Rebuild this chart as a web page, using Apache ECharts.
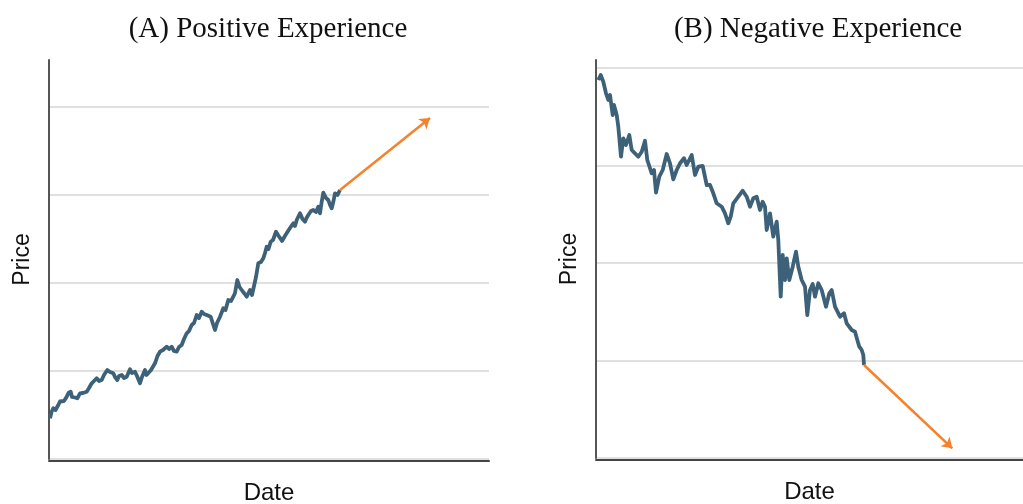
<!DOCTYPE html>
<html>
<head>
<meta charset="utf-8">
<script src="https://cdn.jsdelivr.net/npm/echarts@6/dist/echarts.min.js"></script>
<style>
html,body{margin:0;padding:0;background:#fff;}
#chart{width:1023px;height:504px;}
</style>
</head>
<body>
<div id="chart"></div>
<script>
// Panel titles and axis names
const titles = ['(A) Positive Experience', '(B) Negative Experience'];
const yName = 'Price';
const xName = 'Date';

// (A) price path: [day, price]
const posDays = [1,2.5,4.3,6.5,9.3,11,12.7,15,17.7,19.5,21.7,23,24.3,26,28.3,31,34,37.7,40,42.7,45,47.7,50,52.7,55,58.3,61,64.3,66,68.3,70,72.7,75,77.7,81,83,86,88,91,93,96,97.5,99.3,102,106,108.5,111,114,117.7,120,122.7,125,127.7,130,132.7,135,137.7,140,142.7,145,147.7,150,152.7,155,157.7,161.7,164,166,168,171,174.3,176.5,179.3,182,184.3,186,188.3,190.5,192.7,195,197.7,201,203,205,207,209.3,212,214.3,216,217.7,219.5,221.7,224,227,229,231,233,235,236.5,238.3,241,244.3,246,247.7,249.5,251,253.5,256,257.5,259.3,262,264.3,267,269.3,271,272.5,274.3,277,279.3,281,282.7,284.5,286,288.5,291];
const posPrice = [40.7,47,50.7,49,54,57.5,59,58,62.3,66,67.3,62,64,61.5,60.7,65.7,66,67.3,71,75.7,78,80.7,78,79,84,89,87,85.7,82,79,83,84,81,82.3,89.7,86,87.3,83,75.7,82,89,84,82.3,89,95.7,103,107.3,109,112.3,110,112.3,108,107.3,112,114,120,125.7,128,134,136,144,141,147.3,145,144,142.3,135,129,136,142.3,150.7,149,159,158,162.3,166,179,172,169,166,162.3,169,164,165.7,182,195.7,197,200.7,206,212.3,210,217.3,219,227.3,224,222.3,218,217.3,224,222.3,231,235.7,233,239,241,245.7,240,237.3,241,244,248,249,247,252.3,245.7,256,266.3,261,259,254,250.7,258,265.7,264,269];
// (A) expected trend arrow: [start, end]
const posArrowDays = [291, 381];
const posArrowPrice = [269, 341];

// (B) price path: [day, price]
const negDays = [2.3,4.7,7.3,10,12.3,14,16.7,18,20.7,22.3,25,27.3,30,33.3,35.7,39,42.3,45.7,49,51.3,55.7,58,60,63.3,66.7,70.7,74,77.3,80.7,84,88,90.7,95.7,99,102.3,106.7,110.7,114,117.3,120.7,125.7,129,132.3,134.7,137.3,142.3,146.7,150.7,154,157.3,160.7,164,166.7,169,170.7,174,177.3,180.7,182.3,184.7,186.7,189,190.7,193.3,196.7,200,202.3,205.7,209,211.3,214,216.7,219,222.3,225.7,230,233.3,235.7,239,244,248,250.7,255.7,259,261.3,263.3,265.7,267.3,268];
const negPrice = [378,383,376.3,364.7,358,363,343,353,343,331.3,301.3,319.7,313,323,308,304.7,301.3,306.3,317.3,298,284.7,288,265.3,281.3,288,304,294.7,278.7,288,294.7,299.7,293,303,283,291.3,292,273,273,264.7,254.7,251.3,244.7,234.7,241.3,254.7,261.3,267.3,261.3,251.3,259.7,261.3,248,256.3,251.3,228,244.7,221.3,236.3,218,161.3,203,178,199.7,178,191.3,206.3,191.3,178,171.3,143,168,174,161.3,174.7,168,151.3,164.7,168,151.3,141.3,144.7,134.7,128,126.3,118,111.3,108,103,93];
// (B) expected trend arrow
const negArrowDays = [268, 356.3];
const negArrowPrice = [93, 9.7];

const lineColor = '#3d6179';
const arrowColor = '#f5822a';

function zip(a, b) { return a.map((v, i) => [v, b[i]]); }

function yAxisCfg(idx, interval, max) {
  return {
    type: 'value', gridIndex: idx, min: 0, max: max, interval: interval,
    name: yName, nameLocation: 'middle', nameRotate: 90, nameGap: 15,
    nameTextStyle: { fontFamily: 'Liberation Sans', fontSize: 23, color: '#111' },
    axisLine: { show: true, lineStyle: { color: '#555', width: 2 } },
    axisTick: { show: false }, axisLabel: { show: false },
    splitLine: { show: true, showMinLine: true, showMaxLine: false, lineStyle: { color: '#d6d6d6', width: 1.5 } }
  };
}
function xAxisCfg(idx, max) {
  return {
    type: 'value', gridIndex: idx, min: 0, max: max,
    name: xName, nameLocation: 'middle', nameGap: 20, offset: 2,
    nameTextStyle: { fontFamily: 'Liberation Sans', fontSize: 24, color: '#111', verticalAlign: 'top' },
    axisLine: { show: true, onZero: false, lineStyle: { color: '#444', width: 2 } },
    axisTick: { show: false }, axisLabel: { show: false }, splitLine: { show: false }
  };
}
function arrowSeries(idx, days, price) {
  return {
    type: 'line', xAxisIndex: idx, yAxisIndex: idx, data: [], silent: true,
    markLine: {
      silent: true, symbol: ['none', 'arrow'], symbolSize: 10,
      label: { show: false },
      itemStyle: { color: arrowColor },
      lineStyle: { color: arrowColor, width: 2.5, type: 'solid' },
      data: [[{ coord: [days[0], price[0]] }, { coord: [days[1], price[1]] }]]
    }
  };
}

const chart = echarts.init(document.getElementById('chart'), null, { renderer: 'canvas' });
chart.setOption({
  animation: false,
  backgroundColor: '#fff',
  title: [
    { text: titles[0], left: 263, top: 10, textAlign: 'center',
      textStyle: { fontFamily: 'Liberation Serif', fontSize: 29, fontWeight: 'normal', color: '#111' } },
    { text: titles[1], left: 813, top: 10, textAlign: 'center',
      textStyle: { fontFamily: 'Liberation Serif', fontSize: 29, fontWeight: 'normal', color: '#111' } }
  ],
  grid: [
    { left: 49, top: 60, width: 440, height: 399, containLabel: false, outerBoundsMode: 'none' },
    { left: 596, top: 60, width: 427, height: 398, containLabel: false, outerBoundsMode: 'none' }
  ],
  xAxis: [xAxisCfg(0, 440), xAxisCfg(1, 427)],
  yAxis: [yAxisCfg(0, 88, 399), yAxisCfg(1, 97.5, 398)],
  series: [
    { type: 'line', xAxisIndex: 0, yAxisIndex: 0, data: zip(posDays, posPrice), showSymbol: false,
      lineStyle: { color: lineColor, width: 3.8, join: 'round' } },
    { type: 'line', xAxisIndex: 1, yAxisIndex: 1, data: zip(negDays, negPrice), showSymbol: false,
      lineStyle: { color: lineColor, width: 3.8, join: 'round' } },
    arrowSeries(0, posArrowDays, posArrowPrice),
    arrowSeries(1, negArrowDays, negArrowPrice)
  ]
});
</script>
</body>
</html>
